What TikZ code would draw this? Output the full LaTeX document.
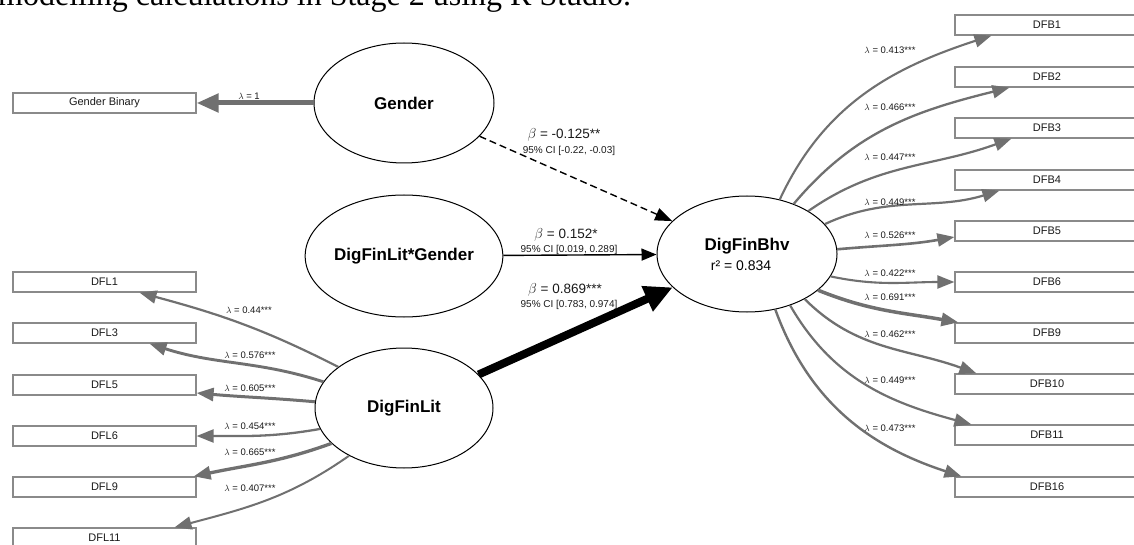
\documentclass[tikz,border=0pt]{standalone}
\usepackage{fontspec}
\setmainfont{Liberation Sans}
\newfontfamily\capfont{Liberation Serif}
\usetikzlibrary{arrows.meta,shapes.geometric}

\definecolor{loadgray}{HTML}{707070}
\definecolor{boxgray}{HTML}{8A8A8A}
\definecolor{txtdark}{HTML}{1A1A1A}

\begin{document}
\begin{tikzpicture}[x=1pt,y=-1pt,
  latent/.style={draw=black, line width=1pt, ellipse, fill=white,
    minimum width=180pt, minimum height=120pt, inner sep=0pt,
    font=\bfseries\fontsize{17}{19}\selectfont},
  indicator/.style={draw=boxgray, line width=1.2pt, fill=white,
    minimum width=183pt, minimum height=20pt, inner sep=0pt,
    font=\fontsize{11}{12}\selectfont, text=txtdark},
  load/.style={draw=loadgray, line width=2pt,
    -{Triangle[length=17pt,width=13pt]}, color=loadgray},
  struct/.style={draw=black, line width=1.4pt,
    -{Triangle[length=15pt,width=12pt]}},
  lamlab/.style={font=\fontsize{9.5}{10}\selectfont, inner sep=0pt, text=txtdark},
  betalab/.style={font=\fontsize{13.5}{14}\selectfont, inner sep=0pt, text=txtdark},
  cilab/.style={font=\fontsize{10}{11}\selectfont, inner sep=0pt, text=txtdark},
]
\useasboundingbox (0,0) rectangle (1134,545);

% caption line running off the top edge
\node[anchor=base west, inner sep=0pt, font=\capfont\fontsize{32}{34}\selectfont]
  (caption) at (-2,6) {modelling calculations in Stage 2 using R Studio.};

% latent variables
\node[latent] (Gender) at (404,103) {Gender};
\node[latent, minimum width=178pt, minimum height=122pt] (DFLG) at (404,256) {DigFinLit*Gender};
\node[latent, minimum width=178pt] (DFLit) at (404,408) {DigFinLit};
\node[latent, minimum height=116pt, align=center] (DFBhv) at (747,254)
  {DigFinBhv\\[1pt]\hspace*{-12pt}{\mdseries\fontsize{14}{15}\selectfont r² = 0.834}};

% indicators, left column
\node[indicator] (GB) at (104.5,103) {Gender Binary};
\node[indicator] (DFL1) at (104.5,282) {DFL1};
\node[indicator] (DFL3) at (104.5,333) {DFL3};
\node[indicator] (DFL5) at (104.5,385) {DFL5};
\node[indicator] (DFL6) at (104.5,436) {DFL6};
\node[indicator] (DFL9) at (104.5,487) {DFL9};
\node[indicator] (DFL11) at (104.5,538) {DFL11};

% indicators, right column
\node[indicator, minimum width=184pt] (DFB1) at (1047,25) {DFB1};
\node[indicator, minimum width=184pt] (DFB2) at (1047,77) {DFB2};
\node[indicator, minimum width=184pt] (DFB3) at (1047,128) {DFB3};
\node[indicator, minimum width=184pt] (DFB4) at (1047,180) {DFB4};
\node[indicator, minimum width=184pt] (DFB5) at (1047,231) {DFB5};
\node[indicator, minimum width=184pt] (DFB6) at (1047,282) {DFB6};
\node[indicator, minimum width=184pt] (DFB9) at (1047,333) {DFB9};
\node[indicator, minimum width=184pt] (DFB10) at (1047,384) {DFB10};
\node[indicator, minimum width=184pt] (DFB11) at (1047,435) {DFB11};
\node[indicator, minimum width=184pt] (DFB16) at (1047,487) {DFB16};

% loadings of Gender and DigFinLit
\draw[load, line width=5pt, -{Triangle[length=22pt,width=18pt]}] (Gender) -- (GB);
\draw[load, line width=2.2pt] (DFLit.148) to[out=153,in=-15] ([xshift=35pt]DFL1.south);
\draw[load, line width=2.9pt] (DFLit.162) to[out=162,in=-18] ([xshift=45pt]DFL3.south);
\draw[load, line width=3.0pt] (DFLit.176) to[out=175,in=-5] ([yshift=-8pt]DFL5.east);
\draw[load, line width=2.3pt] (DFLit.194) to[out=190,in=0] (DFL6.east);
\draw[load, line width=3.3pt] (DFLit.206) to[out=200,in=12] ([xshift=-3pt]DFL9.north east);
\draw[load, line width=2.0pt] (DFLit.221) to[out=215,in=15] ([xshift=70pt]DFL11.north);

% loadings of DigFinBhv
\draw[load, line width=2.1pt] (DFBhv.59) to[out=65,in=198] ([xshift=37pt]DFB1.south west);
\draw[load, line width=2.3pt] (DFBhv.47) to[out=50,in=194] ([xshift=55pt]DFB2.south west);
\draw[load, line width=2.2pt] (DFBhv.35) to[out=35,in=200] ([xshift=57pt]DFB3.south west);
\draw[load, line width=2.2pt] (DFBhv.21) to[out=25,in=197] ([xshift=45pt]DFB4.south west);
\draw[load, line width=2.6pt] (DFBhv.3) to[out=5,in=190] ([yshift=-6pt]DFB5.west);
\draw[load, line width=2.1pt] (DFBhv.-15) to[out=-12,in=180] (DFB6.west);
\draw[load, line width=3.5pt] (DFBhv.-27) to[out=-22,in=170] ([xshift=4pt]DFB9.north west);
\draw[load, line width=2.3pt] (DFBhv.-38) to[out=-45,in=160] ([xshift=22pt]DFB10.north west);
\draw[load, line width=2.2pt] (DFBhv.-50) to[out=-60,in=165] ([xshift=17pt]DFB11.north west);
\draw[load, line width=2.4pt] (DFBhv.-63) to[out=-70,in=162] ([xshift=7pt]DFB16.north west);

% structural paths
\draw[struct, dashed, dash pattern=on 7pt off 4pt, -{Triangle[length=17pt,width=13pt]}] (Gender) -- (DFBhv);
\draw[struct] (DFLG) -- (DFBhv);
\draw[struct, line width=8pt, -{Triangle[length=28pt,width=26pt]}] (DFLit) -- (DFBhv);

% path coefficients
\node[betalab] (b1) at (564,135) {$\beta$ = -0.125**};
\node[cilab] (c1) at (569,151) {95\% CI [-0.22, -0.03]};
\node[betalab] (b2) at (566,235) {$\beta$ = 0.152*};
\node[cilab] (c2) at (569,250) {95\% CI [0.019, 0.289]};
\node[betalab] (b3) at (565,290) {$\beta$ = 0.869***};
\node[cilab] (c3) at (569,305) {95\% CI [0.783, 0.974]};

% loading labels, left
\node[lamlab] (lg) at (249,96) {$\lambda$ = 1};
\node[lamlab] (l1) at (249,310) {$\lambda$ = 0.44***};
\node[lamlab] (l3) at (250,355) {$\lambda$ = 0.576***};
\node[lamlab] (l5) at (250,388) {$\lambda$ = 0.605***};
\node[lamlab] (l6) at (250,426) {$\lambda$ = 0.454***};
\node[lamlab] (l9) at (250,452) {$\lambda$ = 0.665***};
\node[lamlab] (l11) at (250,488) {$\lambda$ = 0.407***};

% loading labels, right
\node[lamlab] (r1) at (890,50) {$\lambda$ = 0.413***};
\node[lamlab] (r2) at (890,107) {$\lambda$ = 0.466***};
\node[lamlab] (r3) at (890,157) {$\lambda$ = 0.447***};
\node[lamlab] (r4) at (890,202) {$\lambda$ = 0.449***};
\node[lamlab] (r5) at (890,235) {$\lambda$ = 0.526***};
\node[lamlab] (r6) at (890,273) {$\lambda$ = 0.422***};
\node[lamlab] (r9) at (890,297) {$\lambda$ = 0.691***};
\node[lamlab] (r10) at (890,334) {$\lambda$ = 0.462***};
\node[lamlab] (r11) at (890,380) {$\lambda$ = 0.449***};
\node[lamlab] (r16) at (890,428) {$\lambda$ = 0.473***};
\end{tikzpicture}
\end{document}
